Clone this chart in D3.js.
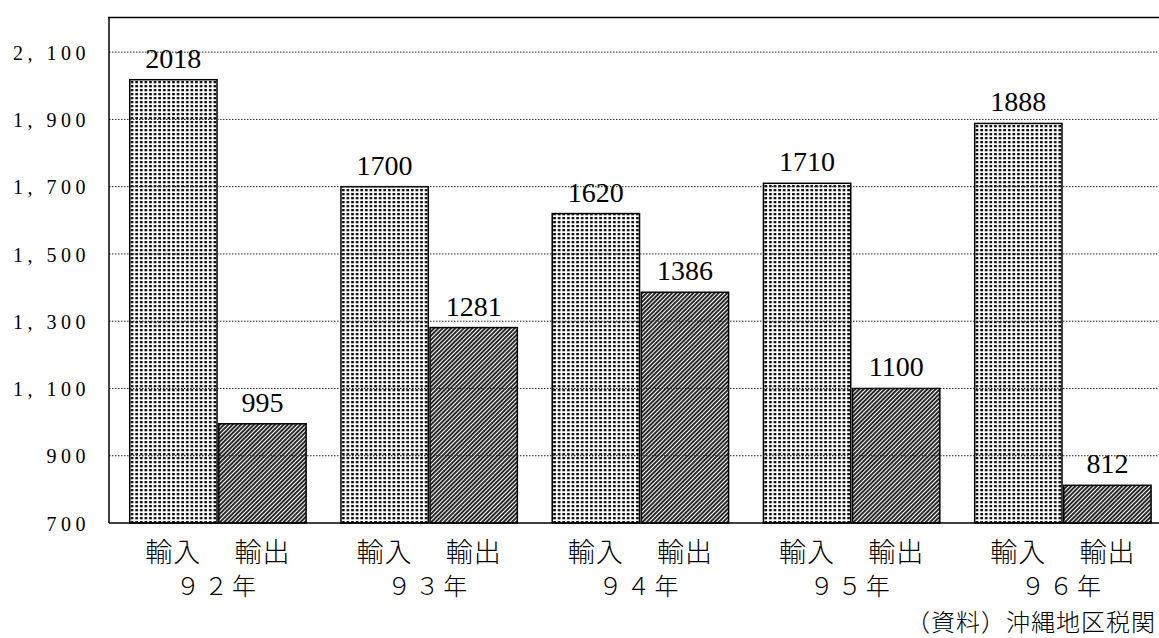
<!DOCTYPE html>
<html>
<head>
<meta charset="utf-8">
<script src="https://cdn.jsdelivr.net/npm/d3@7/dist/d3.min.js"></script>
<style>
  html, body { margin: 0; padding: 0; background: #fff; }
  svg { display: block; }
</style>
</head>
<body>
<svg id="chart" width="1159" height="638"></svg>
<script>
// 沖縄地区 輸出入額の推移 (92年〜96年)
const years = ["９２年", "９３年", "９４年", "９５年", "９６年"];
const series = ["輸入", "輸出"];
const importValues = [2018, 1700, 1620, 1710, 1888];
const exportValues = [995, 1281, 1386, 1100, 812];
const yTicks = [700, 900, 1100, 1300, 1500, 1700, 1900, 2100];
const sourceNote = "（資料）沖縄地区税関";

const rows = years.map((yr, i) => ({ year: yr, values: [importValues[i], exportValues[i]] }));

const plot = { left: 109, right: 1159, top: 18.5, bottom: 523 };

const svg = d3.select("#chart");

// fill patterns: dotted screen for 輸入, diagonal hatch for 輸出
const defs = svg.append("defs");
const dots = defs.append("pattern")
  .attr("id", "dots").attr("patternUnits", "userSpaceOnUse")
  .attr("width", 4.6).attr("height", 4);
dots.append("rect").attr("width", 4.6).attr("height", 4).attr("fill", "#fff");
dots.append("rect").attr("x", 1).attr("y", 1).attr("width", 2.7).attr("height", 2.3).attr("fill", "#111");

const hatch = defs.append("pattern")
  .attr("id", "hatch").attr("patternUnits", "userSpaceOnUse")
  .attr("width", 3).attr("height", 3)
  .attr("patternTransform", "rotate(45)");
hatch.append("rect").attr("width", 3).attr("height", 3).attr("fill", "#fff");
hatch.append("line").attr("x1", 1).attr("y1", 0).attr("x2", 1).attr("y2", 3)
  .attr("stroke", "#111").attr("stroke-width", 1.8);

const fills = ["url(#dots)", "url(#hatch)"];

// scales
const y = d3.scaleLinear().domain([700, 2200]).range([plot.bottom, plot.top]);
const x0 = d3.scaleBand().domain(years).range([112.3, 1168.5])
  .paddingInner(0.165).paddingOuter(0.0825);
const x1 = d3.scaleBand().domain(series).range([0, x0.bandwidth()]).paddingInner(0.02);

// bars
const groups = svg.append("g").selectAll("g").data(rows).join("g")
  .attr("transform", d => `translate(${x0(d.year)},0)`);

groups.selectAll("rect").data(d => d.values.map((v, k) => ({ key: series[k], v, k })))
  .join("rect")
  .attr("x", d => x1(d.key))
  .attr("y", d => y(d.v))
  .attr("width", x1.bandwidth())
  .attr("height", d => y(700) - y(d.v))
  .attr("fill", d => fills[d.k])
  .attr("stroke", "#000")
  .attr("stroke-width", 1.5);

// dotted grid lines drawn over the bars
svg.append("g").selectAll("line").data(yTicks.filter(t => t > 700)).join("line")
  .attr("x1", plot.left).attr("x2", plot.right)
  .attr("y1", d => y(d)).attr("y2", d => y(d))
  .attr("stroke", "#222").attr("stroke-width", 1)
  .attr("stroke-dasharray", "1.5,1.5");

// frame: left axis, baseline, top border
const frame = svg.append("g").attr("stroke", "#000").attr("fill", "none");
frame.append("line").attr("x1", plot.left).attr("x2", plot.left)
  .attr("y1", plot.top - 1).attr("y2", plot.bottom).attr("stroke-width", 1.5);
frame.append("line").attr("x1", plot.left).attr("x2", plot.right)
  .attr("y1", plot.bottom).attr("y2", plot.bottom).attr("stroke-width", 1.5);
frame.append("line").attr("x1", plot.left - 1).attr("x2", plot.right)
  .attr("y1", plot.top - 1).attr("y2", plot.top - 1).attr("stroke-width", 1.5);

// value labels
groups.selectAll("text.val").data(d => d.values.map((v, k) => ({ key: series[k], v })))
  .join("text").attr("class", "val")
  .attr("x", d => x1(d.key) + x1.bandwidth() / 2)
  .attr("y", d => y(d.v) - 12)
  .attr("text-anchor", "middle")
  .attr("font-family", "'Liberation Serif', 'DejaVu Serif', serif")
  .attr("font-size", 28)
  .attr("fill", "#000")
  .attr("stroke", "#fff").attr("stroke-width", 4).attr("paint-order", "stroke")
  .text(d => d.v);

// y axis labels
const fmtTick = v => v >= 1000 ? d3.format(",")(v).replace(",", ", ") : String(v);
const yAxis = d3.axisLeft(y).tickValues(yTicks).tickSize(0).tickPadding(19).tickFormat(fmtTick);
svg.append("g").attr("transform", `translate(${plot.left},0)`).call(yAxis)
  .call(g => g.select(".domain").remove())
  .call(g => g.selectAll("text")
    .attr("font-family", "'Liberation Serif', 'DejaVu Serif', serif")
    .attr("font-size", 20)
    .attr("letter-spacing", "4.5px")
    .attr("dy", "0.36em")
    .attr("fill", "#000"));

// series labels under each bar
groups.selectAll("text.ser").data(series).join("text").attr("class", "ser")
  .attr("x", d => x1(d) + x1.bandwidth() / 2)
  .attr("y", 562)
  .attr("text-anchor", "middle")
  .attr("font-family", "'Noto Sans CJK JP', sans-serif")
  .attr("font-weight", 300)
  .attr("font-size", 27)
  .attr("letter-spacing", "1px")
  .attr("fill", "#000")
  .text(d => d);

// year labels
const xAxis = d3.axisBottom(x0).tickSize(0).tickPadding(0);
svg.append("g").attr("transform", `translate(0,595)`).call(xAxis)
  .call(g => g.select(".domain").remove())
  .call(g => g.selectAll("text")
    .attr("dy", "0")
    .attr("font-family", "'Noto Sans CJK JP', sans-serif")
    .attr("font-weight", 300)
    .attr("font-size", 24)
    .attr("letter-spacing", "4px")
    .attr("fill", "#000"));

// source note
svg.append("text")
  .attr("x", 1156).attr("y", 631)
  .attr("text-anchor", "end")
  .attr("font-family", "'Noto Sans CJK JP', sans-serif")
  .attr("font-weight", 300)
  .attr("font-size", 24)
  .attr("letter-spacing", "1px")
  .attr("fill", "#000")
  .text(sourceNote);
</script>
</body>
</html>
